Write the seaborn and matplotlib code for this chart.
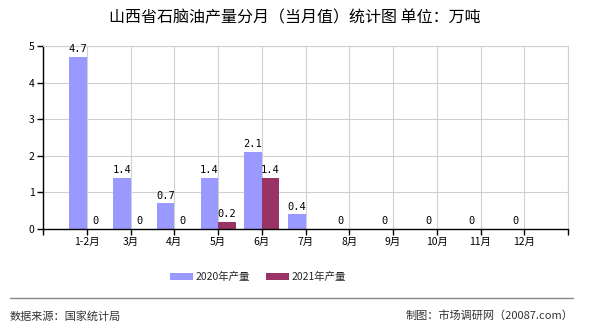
import numpy as np
import pandas as pd
import seaborn as sns
import matplotlib
matplotlib.use("Agg")
import matplotlib.pyplot as plt
from matplotlib.patches import Patch
from matplotlib.lines import Line2D

months = ["1-2月", "3月", "4月", "5月", "6月", "7月", "8月", "9月", "10月", "11月", "12月"]
s2020 = [4.7, 1.4, 0.7, 1.4, 2.1, 0.4, 0, 0, 0, 0, 0]
s2021 = [0, 0, 0, 0.2, 1.4, np.nan, np.nan, np.nan, np.nan, np.nan, np.nan]
series_names = ["2020年产量", "2021年产量"]
colors = ["#9999FF", "#993366"]
title = "山西省石脑油产量分月（当月值）统计图 单位：万吨"
source = "数据来源：国家统计局"
credit = "制图：市场调研网（20087.com）"

df = pd.DataFrame({
    "month": months * 2,
    "value": s2020 + s2021,
    "series": [series_names[0]] * len(months) + [series_names[1]] * len(months),
}).dropna()

sns.set_theme(style="white")
plt.rcParams["font.family"] = ["Noto Sans CJK SC", "DejaVu Sans"]

fig = plt.figure(figsize=(5.9, 3.3), dpi=100)
ax = fig.add_axes([43 / 590, 1 - 229 / 330, (568 - 43) / 590, (229 - 46) / 330])

sns.barplot(data=df, x="month", y="value", hue="series", order=months,
            hue_order=series_names, palette=colors, width=0.8, saturation=1,
            ax=ax, legend=False, edgecolor="none", linewidth=0)

for p in ax.patches:
    h = p.get_height()
    if np.isnan(h):
        continue
    ax.annotate(f"{round(h, 1):g}", (p.get_x() + p.get_width() / 2, h),
                xytext=(0, 2), textcoords="offset points", ha="center", va="bottom",
                fontsize=7.5, color="#000000", family="DejaVu Sans Mono")

ax.set_xlim(-1, len(months))
ax.set_ylim(0, 5)
ax.set_xticks(np.arange(-1, len(months) + 1))
ax.set_xticklabels([""] + months + [""], fontsize=7.5)
ax.set_yticks(np.arange(0, 6))
ax.set_yticklabels([str(i) for i in range(6)], fontsize=7.5)
ax.set_xlabel("")
ax.set_ylabel("")
ax.grid(True, color="#d0d0d0", linewidth=0.8)
ax.set_axisbelow(True)
for s in ["top", "right"]:
    ax.spines[s].set_color("#d0d0d0")
    ax.spines[s].set_linewidth(0.8)
for s in ["left", "bottom"]:
    ax.spines[s].set_color("#000000")
    ax.spines[s].set_linewidth(1.0)
ax.tick_params(axis="both", direction="out", length=4, width=1, color="#000000",
               pad=2, labelcolor="#000000", bottom=True, left=True)

fig.text(0.5, 1 - 18 / 330, title, ha="center", va="center", fontsize=11.5, color="#000000")

handles = [Patch(facecolor=c, edgecolor="none") for c in colors]
fig.legend(handles, series_names, loc="center", bbox_to_anchor=(258 / 590, 1 - 277 / 330),
           ncol=2, frameon=False, fontsize=7.5, handlelength=2.2, handleheight=0.7,
           handletextpad=0.3, columnspacing=1.5)

fig.add_artist(Line2D([10 / 590, 573 / 590], [1 - 298 / 330, 1 - 298 / 330],
                      color="#888888", linewidth=1))
fig.text(10 / 590, 1 - 316 / 330, source, ha="left", va="center", fontsize=8, color="#333333")
fig.text(573 / 590, 1 - 316 / 330, credit, ha="right", va="center", fontsize=8, color="#333333")

fig.savefig("out.png", dpi=100)
